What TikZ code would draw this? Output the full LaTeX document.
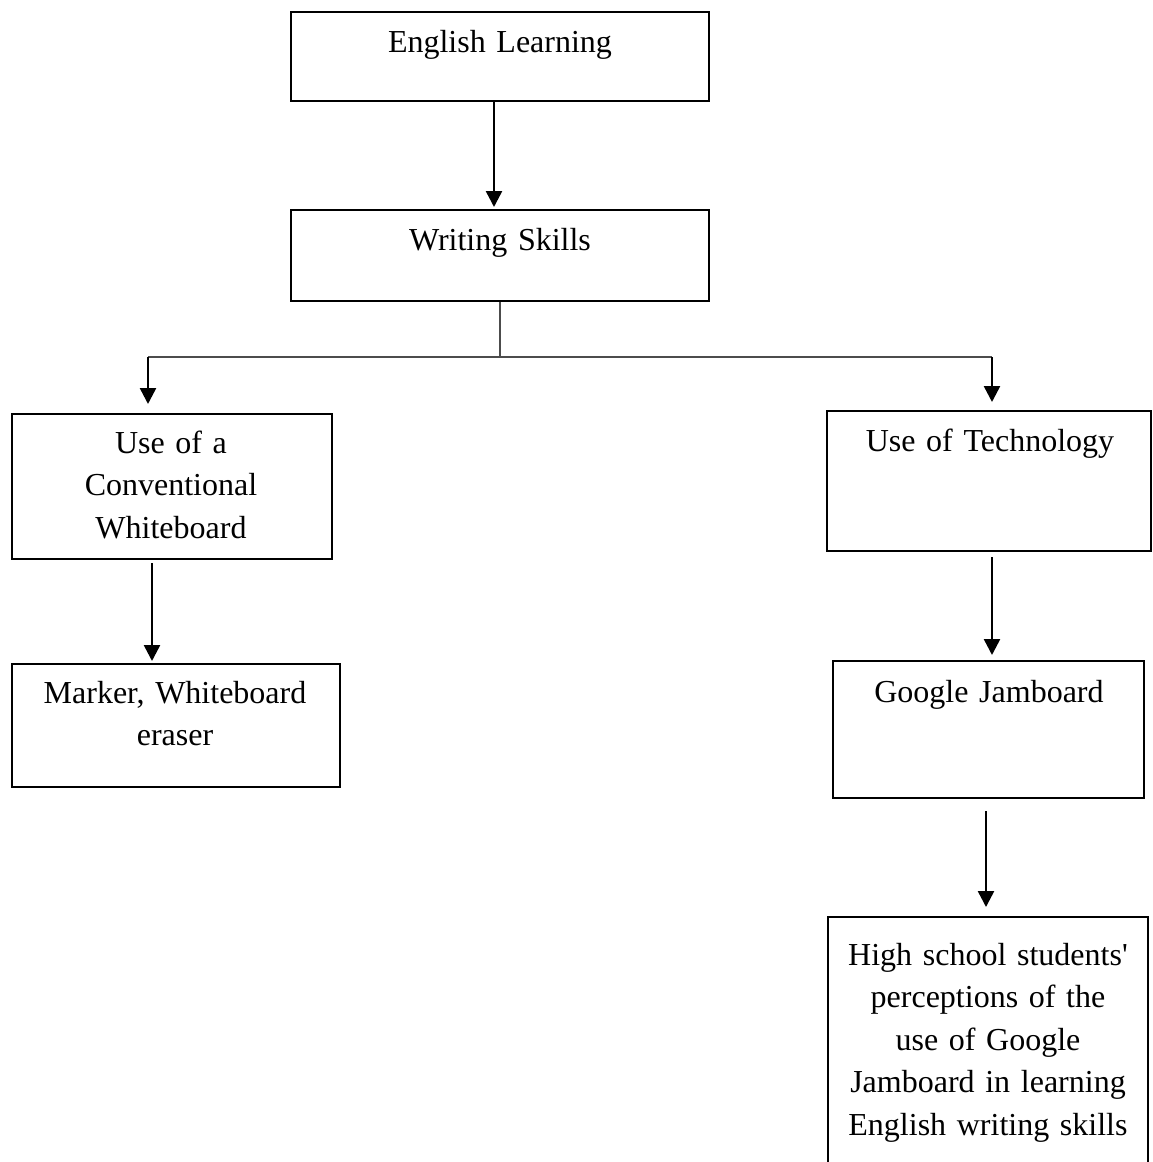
\documentclass[tikz,border=0pt]{standalone}
\usepackage{fontspec}
\setmainfont{Liberation Serif}
\usetikzlibrary{arrows.meta}
\usetikzlibrary{positioning}

\begin{document}
\begin{tikzpicture}[x=0.5pt, y=-0.5pt]
	\tikzstyle{box}=[rectangle, draw, line width=1pt, inner sep=0pt];
	\tikzstyle{txt}=[anchor=base, inner sep=0pt, align=center, text width=170pt,
	                        font=\fontsize{16}{21.25}\selectfont];
	\tikzstyle{arr}=[line width=1.25pt, -{Triangle[width=8pt, length=8pt]}];
	\tikzstyle{thin}=[line width=0.6pt, black!70];
	\useasboundingbox (0,0) rectangle (1152,1162);
	% boxes
	\node[box, minimum width=209pt, minimum height=44.5pt] (el) at (500,56.5) {};
	\node[box, minimum width=209pt, minimum height=45.5pt] (ws) at (500,255.5) {};
	\node[box, minimum width=160pt, minimum height=72.5pt] (ucw) at (172,486.5) {};
	\node[box, minimum width=164pt, minimum height=61.5pt] (mwe) at (176,725.5) {};
	\node[box, minimum width=162pt, minimum height=70pt] (ut) at (989,481) {};
	\node[box, minimum width=155.5pt, minimum height=68.5pt] (gj) at (988.5,729.5) {};
	\node[box, minimum width=160pt, minimum height=150pt] (hs) at (988,1067) {};
	% texts
	\node[txt] (elt) at (500,52) {English Learning};
	\node[txt] (wst) at (500,250) {Writing Skills};
	\node[txt] (ucwt) at (171,453) {Use of a\\Conventional\\Whiteboard};
	\node[txt] (mwet) at (175,703) {Marker, Whiteboard\\eraser};
	\node[txt] (utt) at (990,451) {Use of Technology};
	\node[txt] (gjt) at (989,702) {Google Jamboard};
	\node[txt] (hst) at (988,965) {High school students\textquotesingle\\perceptions of the\\use of Google\\Jamboard in learning\\English writing skills};
	% connectors
	\coordinate (bus) at (500,357);
	\coordinate (busl) at (148,357);
	\coordinate (busr) at (992,357);
	\draw[arr, shorten >=1pt] ([xshift=-3pt]el.south) -- ([xshift=-3pt]ws.north);
	\draw[thin] (ws.south) -- (bus);
	\draw[thin] (busl) -- (busr);
	\draw[arr, shorten >=4.5pt] (busl) -- (busl |- ucw.north);
	\draw[arr, shorten >=4pt] (busr) -- (busr |- ut.north);
	\draw[arr, shorten <=1.5pt, shorten >=1pt] ([xshift=-10pt]ucw.south) -- ([xshift=-10pt]ucw.south |- mwe.north);
	\draw[arr, shorten <=2.5pt, shorten >=2.5pt] ([xshift=1.5pt]ut.south) -- ([xshift=1.5pt]ut.south |- gj.north);
	\draw[arr, shorten <=6pt, shorten >=4.5pt] ([xshift=-1.25pt]gj.south) -- ([xshift=-1.25pt]gj.south |- hs.north);
\end{tikzpicture}
\end{document}
